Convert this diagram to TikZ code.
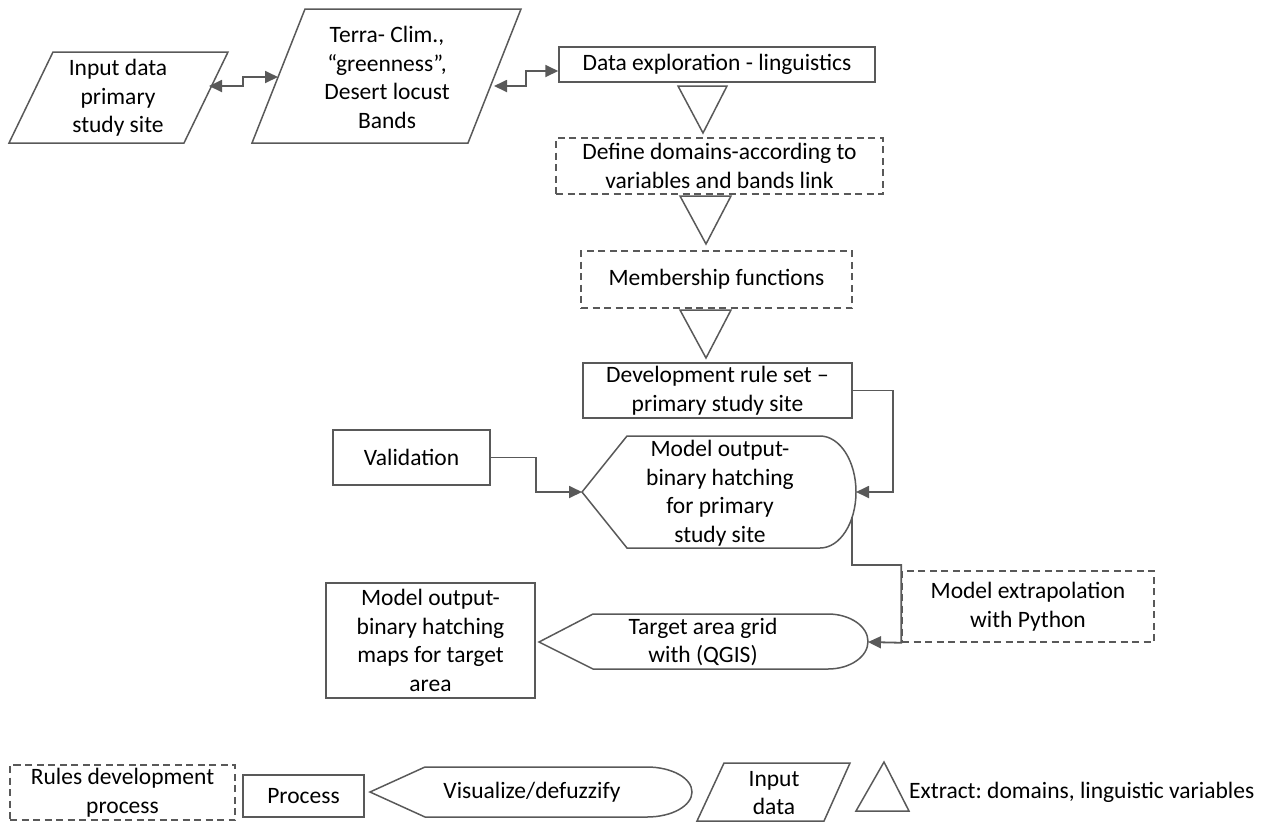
\documentclass[tikz,border=0pt]{standalone}
\usepackage{fontspec}
\setmainfont{Carlito}
\usetikzlibrary{arrows.meta}
\definecolor{edgegrey}{HTML}{595959}
\tikzset{
  outline/.style={draw=edgegrey, line width=1.5pt},
  dashbox/.style={outline, dash pattern=on 7pt off 4.5pt},
  txt/.style={align=center, inner sep=0pt, font=\fontsize{23.5}{28.5}\selectfont\frenchspacing},
  link/.style={draw=edgegrey, line width=1.8pt, -{Triangle[length=13pt,width=12pt]}},
  twolink/.style={draw=edgegrey, line width=1.8pt, {Triangle[length=13pt,width=12pt]}-{Triangle[length=13pt,width=12pt]}}
}

\begin{document}
\begin{tikzpicture}[x=1pt, y=-1pt]
  \useasboundingbox (0,0) rectangle (1269,823);
  \draw[outline] (53,52) -- (228,52) -- (184,143) -- (9,143) -- cycle;
  \node[txt] (in1) at (118,98) {Input data\\primary\\study site};
  \draw[outline] (305,9) -- (521,9) -- (468,143) -- (252,143) -- cycle;
  \node[txt] (in2) at (387,77.5) {Terra- Clim.,\\“greenness”,\\Desert locust\\Bands};
  \coordinate (in1 e) at (209,86);
  \coordinate (in2 w) at (278,77);
  \coordinate (in2 e) at (494,86);
  \draw[twolink] (in1 e) -- ++(34,0) |- (in2 w);

  \node[outline, txt, minimum width=316pt, minimum height=35pt] (dex) at (717,64.5) {Data exploration - linguistics};
  \draw[twolink] (in2 e) -- ++(32,0) |- ([yshift=-6.5pt]dex.west);

  \draw[outline] (678,86) -- (727,86) -- (703,133) -- cycle;
  \node[dashbox, txt, minimum width=327pt, minimum height=56pt] (dom) at (719.5,166) {Define domains-according to\\variables and bands link};
  \draw[outline] (680,196) -- (731,196) -- (706,244) -- cycle;
  \node[dashbox, txt, minimum width=271pt, minimum height=57pt] (mem) at (716.5,279.5) {Membership functions};
  \draw[outline] (680,310) -- (731,310) -- (706,358) -- cycle;
  \node[outline, txt, minimum width=269pt, minimum height=55pt] (dev) at (717.5,390.5) {Development rule set –\\primary study site};

  \draw[outline] (582,492) -- (627,436) -- (820,436) arc[start angle=-90, end angle=90, x radius=36, y radius=56] -- (627,548) -- cycle;
  \node[txt] (mo) at (720,493) {Model output-\\binary hatching\\for primary\\study site};
  \coordinate (mo w) at (582,492);
  \coordinate (mo e) at (856,492);
  \coordinate (mo se) at (852,517);

  \node[outline, txt, minimum width=157pt, minimum height=55pt] (val) at (411.5,457.5) {Validation};
  \draw[link] (val.east) -- ++(45,0) |- (mo w);
  \draw[link] (dev.east) -- ++(40,0) |- (mo e);

  \node[dashbox, txt, minimum width=252pt, minimum height=71pt] (ext) at (1028,606.5) {Model extrapolation\\with Python};
  \draw[outline] (539,642) -- (593,614) -- (828,614) arc[start angle=-90, end angle=90, x radius=40, y radius=27.5] -- (593,669) -- cycle;
  \node[txt] (tg) at (703,642) {Target area grid\\with (QGIS)};
  \coordinate (tg e) at (868,642);
  \draw[link] (mo se) -- ++(0,48) -| (ext.south west) -- (tg e);

  \node[outline, txt, minimum width=209pt, minimum height=115pt] (mot) at (430.5,640.5) {Model output-\\binary hatching\\maps for target\\area};

  \node[dashbox, txt, minimum width=225pt, minimum height=55pt] (rdp) at (122.5,792.5) {Rules development\\process};
  \node[outline, txt, minimum width=121pt, minimum height=42pt] (proc) at (303.5,796) {Process};
  \draw[outline] (370,792) -- (425,767) -- (647,767) arc[start angle=-90, end angle=90, x radius=45, y radius=25] -- (425,817) -- cycle;
  \node[txt] (vis) at (532,792) {Visualize/defuzzify};
  \draw[outline] (724,763) -- (850,763) -- (824,821) -- (697,821) -- cycle;
  \node[txt] (inp) at (774,793) {Input\\data};
  \draw[outline] (884,762) -- (909,811) -- (856,811) -- cycle;
  \node[txt, anchor=west] (xtr) at (909,792) {Extract: domains, linguistic variables};
\end{tikzpicture}
\end{document}
